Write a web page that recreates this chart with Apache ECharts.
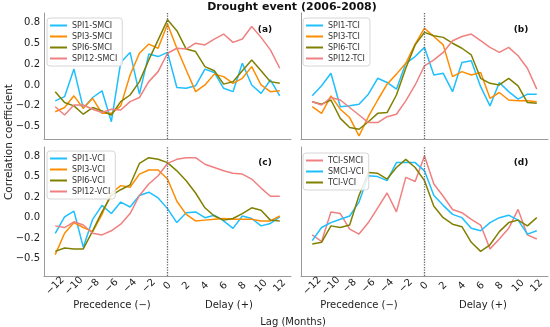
<!DOCTYPE html>
<html><head><meta charset="utf-8">
<script src="https://cdn.jsdelivr.net/npm/echarts@6/dist/echarts.min.js"></script>
<style>html,body{margin:0;padding:0;background:#fff}#c{width:550px;height:327px}</style>
</head><body><div id="c"></div>
<script>
// ---- data ----
const lags = [-12,-11,-10,-9,-8,-7,-6,-5,-4,-3,-2,-1,0,1,2,3,4,5,6,7,8,9,10,11,12];
const xTicks = [-12,-10,-8,-6,-4,-2,0,2,4,6,8,10,12];
const xTickLabels = ['\u221212','\u221210','\u22128','\u22126','\u22124','\u22122','0','2','4','6','8','10','12'];
const yTicks = [-0.5,-0.25,0,0.25,0.5,0.75];
const yTickLabels = ['\u22120.5','\u22120.2','0.0','0.2','0.5','0.8'];

const spi1Smci = [-0.19,-0.14,0.19,-0.28,-0.15,-0.07,-0.44,0.27,0.39,-0.11,0.37,0.34,0.39,-0.03,-0.04,-0.01,0.19,0.15,-0.04,-0.08,0.26,0.00,-0.10,0.06,-0.13];
const spi3Smci = [-0.32,-0.27,-0.13,-0.28,-0.16,-0.34,-0.34,-0.25,0.12,0.38,0.49,0.44,0.73,0.44,0.18,-0.08,0.00,0.13,0.10,0.02,0.08,0.22,0.00,-0.08,-0.07];
const spi6Smci = [-0.08,-0.21,-0.25,-0.35,-0.27,-0.31,-0.36,-0.20,-0.12,0.04,0.30,0.54,0.78,0.65,0.43,0.40,0.22,0.17,0.01,0.04,0.17,0.30,0.17,0.04,0.02];
const spi12Smci = [-0.26,-0.36,-0.24,-0.24,-0.29,-0.33,-0.29,-0.30,-0.20,-0.15,0.04,0.16,0.38,0.44,0.43,0.50,0.48,0.55,0.61,0.51,0.55,0.70,0.57,0.42,0.20];

const spi1Tci = [-0.13,-0.01,0.14,-0.26,-0.25,-0.23,-0.11,0.08,0.03,-0.05,0.26,0.34,0.45,0.12,0.14,-0.08,0.27,0.29,-0.02,-0.25,0.03,-0.08,-0.17,-0.11,-0.11];
const spi3Tci = [-0.26,-0.34,-0.13,-0.29,-0.39,-0.61,-0.38,-0.18,0.01,0.13,0.26,0.49,0.68,0.58,0.48,0.10,0.16,0.12,0.15,-0.16,-0.09,-0.18,-0.19,-0.19,-0.20];
const spi6Tci = [-0.20,-0.23,-0.18,-0.40,-0.51,-0.53,-0.44,-0.34,-0.33,-0.12,0.20,0.48,0.63,0.59,0.57,0.50,0.44,0.36,0.08,0.02,0.00,0.08,-0.01,-0.21,-0.22];
const spi12Tci = [-0.20,-0.24,-0.15,-0.18,-0.27,-0.36,-0.45,-0.45,-0.38,-0.35,-0.19,0.00,0.23,0.30,0.39,0.53,0.58,0.61,0.53,0.45,0.39,0.45,0.35,0.20,-0.05];

const spi1Vci = [-0.19,0.01,0.08,-0.36,-0.02,0.15,0.05,0.19,0.13,0.27,0.31,0.24,0.11,-0.06,0.06,0.07,0.00,0.03,-0.04,-0.13,0.02,-0.01,-0.10,-0.07,0.01];
const spi3Vci = [-0.45,-0.19,-0.06,-0.12,-0.17,0.04,0.30,0.39,0.37,0.53,0.58,0.58,0.47,0.20,0.04,-0.04,-0.03,-0.02,-0.01,-0.02,-0.02,-0.02,-0.04,-0.04,0.02];
const spi6Vci = [-0.41,-0.37,-0.38,-0.38,-0.16,0.07,0.27,0.34,0.40,0.66,0.73,0.71,0.67,0.57,0.45,0.30,0.12,0.02,-0.03,-0.01,0.05,0.12,0.09,-0.03,-0.04];
const spi12Vci = [-0.10,-0.12,-0.05,-0.09,-0.19,-0.21,-0.16,-0.08,0.05,0.27,0.41,0.51,0.66,0.71,0.73,0.73,0.65,0.61,0.57,0.54,0.53,0.47,0.36,0.26,0.26];

const tciSmci = [-0.21,-0.29,0.07,0.05,-0.14,-0.20,-0.06,0.12,0.30,0.07,0.49,0.44,0.75,0.41,0.26,0.10,0.06,-0.02,-0.09,-0.38,-0.26,-0.13,0.10,-0.21,-0.26];
const smciVci = [-0.28,-0.12,-0.06,-0.02,0.02,0.19,0.51,0.50,0.45,0.67,0.67,0.67,0.57,0.27,0.15,0.04,0.00,-0.13,-0.16,-0.06,0.00,0.03,-0.03,-0.20,-0.16];
const tciVci = [-0.32,-0.30,-0.10,-0.12,-0.09,0.27,0.55,0.54,0.47,0.61,0.71,0.61,0.45,0.14,0.00,-0.08,-0.11,-0.30,-0.41,-0.33,-0.17,-0.06,-0.03,-0.10,0.00];

const panels = [
  {tag:'(a)', names:['SPI1-SMCI','SPI3-SMCI','SPI6-SMCI','SPI12-SMCI'], vals:[spi1Smci,spi3Smci,spi6Smci,spi12Smci]},
  {tag:'(b)', names:['SPI1-TCI','SPI3-TCI','SPI6-TCI','SPI12-TCI'], vals:[spi1Tci,spi3Tci,spi6Tci,spi12Tci]},
  {tag:'(c)', names:['SPI1-VCI','SPI3-VCI','SPI6-VCI','SPI12-VCI'], vals:[spi1Vci,spi3Vci,spi6Vci,spi12Vci]},
  {tag:'(d)', names:['TCI-SMCI','SMCI-VCI','TCI-VCI'], vals:[tciSmci,smciVci,tciVci]}
];
const colors4 = ['#1EBFFF','#FF8C00','#808000','#F08080'];
const colorsD = ['#F08080','#1EBFFF','#808000'];

// ---- layout ----
const FONT = 'DejaVu Sans';
const gridPos = [
  {left:44, top:13, width:247, height:126},
  {left:301, top:13, width:247, height:126},
  {left:44, top:147, width:247, height:129},
  {left:301, top:147, width:247, height:129}
];
const yRanges = [[-0.647,0.862],[-0.647,0.862],[-0.71,0.86],[-0.71,0.86]];
const legendPos = [{left:47,top:18},{left:303,top:18},{left:47,top:151},{left:303,top:153}];
const tagPos = [[265,30],[521,30],[265,163],[521,163]];

const grid=[], xAxis=[], yAxis=[], series=[], legend=[], graphic=[];
panels.forEach((p,i)=>{
  grid.push(gridPos[i]);
  const bottomRow = i>=2, leftCol = (i%2===0);
  xAxis.push({type:'value', gridIndex:i, min:-13.2, max:13.2,
    axisLine:{show:true, onZero:false, lineStyle:{color:'#9a9a9a', width:1}},
    axisTick:{show:false}, splitLine:{show:false},
    axisLabel:{show:bottomRow, customValues:xTicks, rotate:45, align:'center', verticalAlign:'middle', margin:10,
      fontSize:10, fontFamily:FONT, color:'#222',
      formatter:v=>xTickLabels[xTicks.indexOf(Math.round(v))]}
  });
  yAxis.push({type:'value', gridIndex:i, min:yRanges[i][0], max:yRanges[i][1],
    axisLine:{show:true, onZero:false, lineStyle:{color:'#9a9a9a', width:1}},
    axisTick:{show:false}, splitLine:{show:false},
    axisLabel:{show:leftCol, customValues:yTicks, margin:4, fontSize:10, fontFamily:FONT, color:'#222',
      formatter:v=>{let k=0,b=1e9;yTicks.forEach((t,j)=>{if(Math.abs(t-v)<b){b=Math.abs(t-v);k=j;}});return yTickLabels[k];}}
  });
  const cols = i===3 ? colorsD : colors4;
  p.names.forEach((n,j)=>{
    const s = {type:'line', name:n, xAxisIndex:i, yAxisIndex:i, symbol:'none', silent:true,
      data: lags.map((l,k)=>[l,p.vals[j][k]]),
      lineStyle:{width:1.5, color:cols[j]}, itemStyle:{color:cols[j]}, z:3};
    if(j===0){
      s.markLine = {silent:true, symbol:'none', label:{show:false}, animation:false,
        lineStyle:{type:'dotted', color:'#666', width:1.3}, data:[{xAxis:0}]};
    }
    series.push(s);
  });
  legend.push(Object.assign({orient:'vertical', data:p.names, icon:'rect', itemWidth:17, itemHeight:2, itemGap:2,
    selectedMode:false, padding:[3,5,3,3], borderColor:'#d6d6d6', borderWidth:1, borderRadius:3,
    backgroundColor:'rgba(255,255,255,0.85)',
    textStyle:{fontSize:8, lineHeight:9, fontFamily:FONT, color:'#333'}}, legendPos[i]));
  graphic.push({type:'text', x:tagPos[i][0], y:tagPos[i][1],
    style:{text:p.tag, font:'bold 9px "DejaVu Sans"', fill:'#111', align:'center', verticalAlign:'middle'}});
});

graphic.push(
  {type:'text', x:292, y:7, style:{text:'Drought event (2006-2008)', font:'bold 11px "DejaVu Sans"', fill:'#111', align:'center', verticalAlign:'middle'}},
  {type:'text', x:112, y:305, style:{text:'Precedence (\u2212)', font:'10px "DejaVu Sans"', fill:'#222', align:'center', verticalAlign:'middle'}},
  {type:'text', x:229, y:305, style:{text:'Delay (+)', font:'10px "DejaVu Sans"', fill:'#222', align:'center', verticalAlign:'middle'}},
  {type:'text', x:359, y:305, style:{text:'Precedence (\u2212)', font:'10px "DejaVu Sans"', fill:'#222', align:'center', verticalAlign:'middle'}},
  {type:'text', x:483, y:305, style:{text:'Delay (+)', font:'10px "DejaVu Sans"', fill:'#222', align:'center', verticalAlign:'middle'}},
  {type:'text', x:293, y:322, style:{text:'Lag (Months)', font:'10px "DejaVu Sans"', fill:'#222', align:'center', verticalAlign:'middle'}},
  {type:'text', x:9, y:142, rotation:Math.PI/2, style:{text:'Correlation coefficient', font:'10.5px "DejaVu Sans"', fill:'#222', align:'center', verticalAlign:'middle'}}
);

const chart = echarts.init(document.getElementById('c'), null, {renderer:'canvas'});
chart.setOption({animation:false, backgroundColor:'#fff', grid, xAxis, yAxis, series, legend, graphic});
</script></body></html>
